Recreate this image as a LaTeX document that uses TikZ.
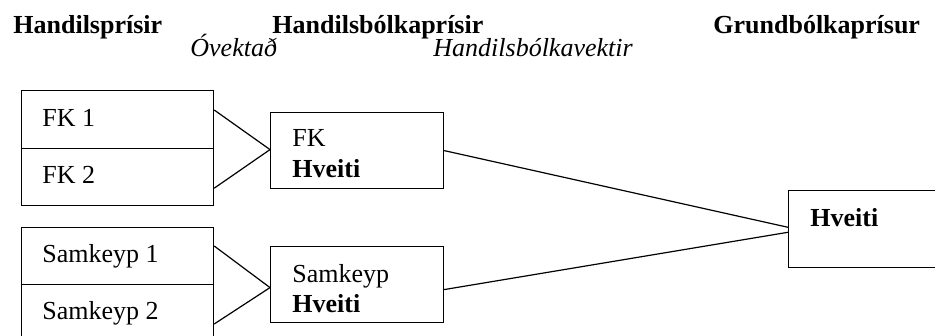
\documentclass[tikz,border=0pt]{standalone}
\usepackage{fontspec}
\setmainfont{Liberation Serif}
\begin{document}
\begin{tikzpicture}[x=0.5pt,y=-0.5pt,
  box/.style={draw,line width=0.6pt,inner sep=0pt,anchor=north west},
  txt/.style={anchor=base west,inner sep=0pt,font=\fontsize{13}{15}\selectfont},
  head/.style={anchor=base west,inner sep=0pt,font=\fontsize{13}{15}\selectfont\bfseries},
  ital/.style={anchor=base west,inner sep=0pt,font=\fontsize{13}{15}\selectfont\itshape},
  link/.style={line width=0.6pt}]
\useasboundingbox (0,0) rectangle (935,336);
\clip (0,0) rectangle (935,336);
% headings
\node[head] (h1) at (13,34) {Handilsprísir};
\node[head] (h2) at (272,34) {Handilsbólkaprísir};
\node[head] (h3) at (713,34) {Grundbólkaprísur};
\node[ital] (i1) at (190,57) {Óvektað};
\node[ital] (i2) at (433,57) {Handilsbólkavektir};
% boxes
\node[box,minimum width=96pt,minimum height=29pt] (fk1) at (21,90) {};
\node[box,minimum width=96pt,minimum height=28.5pt] (fk2) at (21,148) {};
\node[box,minimum width=86.5pt,minimum height=38pt] (fkm) at (270,112) {};
\node[box,minimum width=96pt,minimum height=28.5pt] (s1) at (21,227) {};
\node[box,minimum width=96pt,minimum height=28.5pt] (s2) at (21,284) {};
\node[box,minimum width=86.5pt,minimum height=38pt] (sm) at (270,246) {};
\node[box,minimum width=80pt,minimum height=38.5pt] (hv) at (788,190) {};
% texts
\node[txt] (t1) at (42,127) {FK 1};
\node[txt] (t2) at (42,184) {FK 2};
\node[txt] (t3) at (292,147) {FK};
\node[head] (t4) at (292,177) {Hveiti};
\node[txt] (t5) at (42,262) {Samkeyp 1};
\node[txt] (t6) at (42,319) {Samkeyp 2};
\node[txt] (t7) at (292,282) {Samkeyp};
\node[head] (t8) at (292,312) {Hveiti};
\node[head] (t9) at (810,227) {Hveiti};
% connectors
\draw[link] ([yshift=-10pt]fk1.north east) -- ([yshift=0.5pt]fkm.west);
\draw[link] ([yshift=9pt]fk2.south east) -- ([yshift=0.5pt]fkm.west);
\draw[link] ([yshift=-9.5pt]s1.north east) -- ([yshift=-1.5pt]sm.west);
\draw[link] ([yshift=-20pt]s2.north east) -- ([yshift=-1.5pt]sm.west);
\draw[link] (fkm.east) -- ([yshift=0.9pt]hv.west);
\draw[link] ([yshift=-2.5pt]sm.east) -- ([yshift=-1.6pt]hv.west);
\end{tikzpicture}
\end{document}
